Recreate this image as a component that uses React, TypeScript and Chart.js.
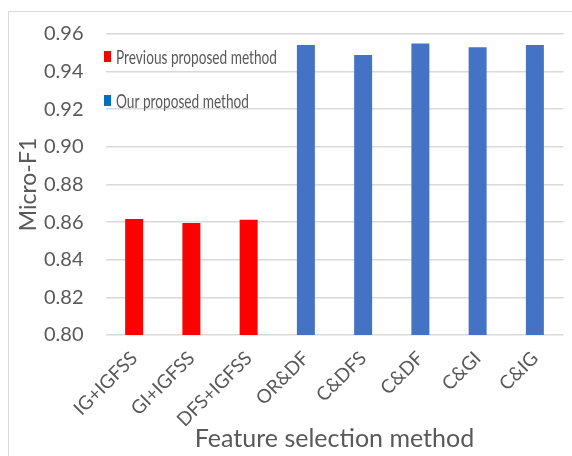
import React, { useEffect, useRef } from "react";
import { Chart, registerables } from "chart.js";

Chart.register(...registerables);

const categories = ["IG+IGFSS", "GI+IGFSS", "DFS+IGFSS", "OR&DF", "C&DFS", "C&DF", "C&GI", "C&IG"];
const previousMethod = [0.8617, 0.8596, 0.8612, null, null, null, null, null];
const ourMethod = [null, null, null, 0.9541, 0.9489, 0.9549, 0.953, 0.9541];
const legendLabels = ["Previous proposed method", "Our proposed method"];
const legendColors = ["#FF0000", "#0070C0"];
const barColors = ["#FF0000", "#4472C4"];
const yTitle = "Micro-F1";
const xTitle = "Feature selection method";

const TEXT = "#595959";
const LEGEND_TEXT_WIDTH = 161;

const legendPlugin = {
  id: "insideLegend",
  afterDraw(chart: any) {
    const { ctx, chartArea } = chart;
    ctx.save();
    ctx.font = "20px Lato, sans-serif";
    ctx.textBaseline = "alphabetic";
    ctx.textAlign = "left";
    const squeeze = LEGEND_TEXT_WIDTH / ctx.measureText(legendLabels[0]).width;
    legendLabels.forEach((label, i) => {
      const y = chartArea.top + 17 + i * 44;
      ctx.fillStyle = legendColors[i];
      ctx.fillRect(chartArea.left - 1.5, y, 7, 11);
      ctx.save();
      ctx.translate(chartArea.left + 10.5, y + 12.5);
      ctx.scale(squeeze, 1);
      ctx.fillStyle = TEXT;
      ctx.fillText(label, 0, 0);
      ctx.restore();
    });
    ctx.restore();
  },
};

export default function App() {
  const ref = useRef<HTMLCanvasElement>(null);
  useEffect(() => {
    if (!ref.current) return;
    const chart = new Chart(ref.current, {
      type: "bar",
      data: {
        labels: categories,
        datasets: [
          { label: legendLabels[0], data: previousMethod as any, backgroundColor: barColors[0] },
          { label: legendLabels[1], data: ourMethod as any, backgroundColor: barColors[1] },
        ],
      },
      options: {
        responsive: false,
        animation: false,
        skipNull: true,
        categoryPercentage: 1,
        barPercentage: 0.314,
        layout: { padding: { left: 0, right: 8.5, top: 34, bottom: 0 } },
        plugins: { legend: { display: false }, tooltip: { enabled: false } },
        scales: {
          x: {
            grid: { display: false, drawTicks: false },
            border: { display: false },
            ticks: {
              color: TEXT,
              font: { family: "Lato", size: 19 },
              minRotation: 45,
              maxRotation: 45,
              padding: 12,
            },
            title: {
              display: true,
              text: xTitle,
              color: TEXT,
              font: { family: "Lato", size: 25 },
              padding: { top: 0, bottom: 2 },
            },
            afterFit(scale: any) {
              scale.height = 121;
            },
          },
          y: {
            min: 0.8,
            max: 0.96,
            grid: { color: "#d9d9d9", lineWidth: 1.5, drawTicks: false },
            border: { display: false },
            ticks: {
              stepSize: 0.02,
              color: TEXT,
              font: { family: "Lato", size: 20 },
              padding: 22,
              callback: (v: any) => Number(v).toFixed(2),
            },
            title: {
              display: true,
              text: yTitle,
              color: TEXT,
              font: { family: "Lato", size: 23 },
              padding: { top: 15, bottom: 0 },
            },
            afterFit(scale: any) {
              scale.width = 105.5;
            },
          },
        },
      } as any,
      plugins: [legendPlugin],
    });
    return () => chart.destroy();
  }, []);
  return (
    <>
      <div
        style={{
          position: "fixed",
          left: 8,
          top: 11,
          width: 620,
          height: 520,
          border: "1px solid #d9d9d9",
          boxSizing: "border-box",
        }}
      />
      <div style={{ position: "fixed", left: 0, top: 0, width: 572, height: 456 }}>
        <canvas ref={ref} width={572} height={456} style={{ display: "block" }} />
      </div>
    </>
  );
}
